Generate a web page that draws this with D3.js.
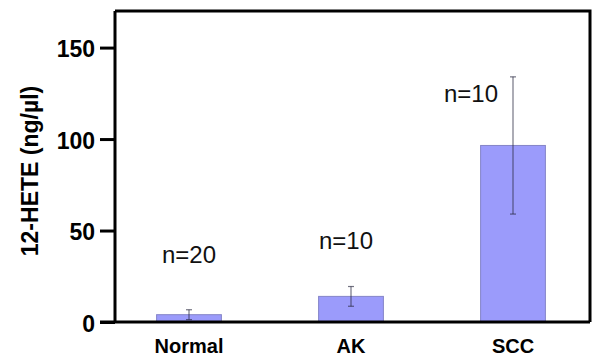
<!DOCTYPE html>
<html>
<head>
<meta charset="utf-8">
<script src="https://cdn.jsdelivr.net/npm/d3@7"></script>
<style>
  html, body { margin: 0; padding: 0; background: #fff; }
  svg { display: block; font-family: Arial, "Liberation Sans", sans-serif; }
</style>
</head>
<body>
<svg id="BarChart"></svg>
<script>
// data
const groups = ["Normal", "AK", "SCC"];
const means = [4, 14, 96.5];
const errors = [2.7, 5.4, 37.5];
const nLabels = ["n=20", "n=10", "n=10"];
const nLabelLevels = [32, 40, 120]; // y value where each n label sits
const yTicks = [0, 50, 100, 150];

const margin = { top: 11, right: 2, bottom: 37, left: 115 },
  W = 592, H = 359,
  width = W - margin.left - margin.right,
  height = H - margin.top - margin.bottom;

const svg = d3.select("#BarChart")
  .attr("width", W)
  .attr("height", H);

const chart = svg.append("g")
  .attr("transform", `translate(${margin.left},${margin.top})`);

const x = d3.scaleBand()
  .domain(groups)
  .range([-7, 479])
  .paddingInner(0.6)
  .paddingOuter(0.3);

const y = d3.scaleLinear()
  .domain([0, 170])
  .range([height, 0]);

// bars
chart.selectAll(".bar")
  .data(groups)
  .enter()
  .append("rect")
  .attr("class", "bar")
  .attr("x", d => x(d))
  .attr("y", (d, i) => y(means[i]))
  .attr("width", x.bandwidth())
  .attr("height", (d, i) => height - y(means[i]))
  .attr("fill", "#9b9bfb")
  .attr("stroke", "#8585c8")
  .attr("stroke-width", 1);

// error bars
const eb = chart.selectAll(".err")
  .data(groups)
  .enter()
  .append("g")
  .attr("class", "err")
  .attr("stroke", "#2a2a40")
  .attr("stroke-opacity", 0.65)
  .attr("stroke-width", 1.2)
  .attr("transform", d => `translate(${x(d) + x.bandwidth() / 2},0)`);

eb.append("line")
  .attr("y1", (d, i) => y(means[i] + errors[i]))
  .attr("y2", (d, i) => y(Math.max(0, means[i] - errors[i])));
eb.append("line")
  .attr("x1", -3).attr("x2", 3)
  .attr("y1", (d, i) => y(means[i] + errors[i]))
  .attr("y2", (d, i) => y(means[i] + errors[i]));
eb.append("line")
  .attr("x1", -3).attr("x2", 3)
  .attr("y1", (d, i) => y(Math.max(0, means[i] - errors[i])))
  .attr("y2", (d, i) => y(Math.max(0, means[i] - errors[i])));

// n labels (SCC label shifted left of its error bar)
const labelShift = [0, -5, -42];
chart.selectAll(".nlab")
  .data(groups)
  .enter()
  .append("text")
  .attr("class", "nlab")
  .attr("x", (d, i) => x(d) + x.bandwidth() / 2 + labelShift[i])
  .attr("y", (d, i) => y(nLabelLevels[i]))
  .attr("text-anchor", "middle")
  .attr("font-size", 24)
  .attr("fill", "#111")
  .text((d, i) => nLabels[i]);

// frame: top and right
chart.append("path")
  .attr("d", `M0,0H${width}V${height}`)
  .attr("fill", "none")
  .attr("stroke", "#000")
  .attr("stroke-width", 3);

// Y axis
const yAxis = chart.append("g")
  .call(d3.axisLeft(y).tickValues(yTicks).tickSize(15).tickPadding(5));
yAxis.select(".domain").attr("stroke-width", 3).attr("d", `M0,${height}V0`);
yAxis.selectAll(".tick line").attr("stroke-width", 3);
yAxis.selectAll(".tick text")
  .attr("font-size", 23)
  .attr("font-weight", "bold")
  .attr("font-family", "Arial, 'Liberation Sans', sans-serif")
  .attr("fill", "#000")
  .attr("dy", "0.4em");

// X axis
const xAxis = chart.append("g")
  .attr("transform", `translate(0,${height})`)
  .call(d3.axisBottom(x).tickSize(0).tickPadding(17));
xAxis.select(".domain").attr("stroke-width", 3).attr("d", `M-15,0H${width}`);
xAxis.selectAll(".tick text")
  .attr("font-size", 20)
  .attr("font-weight", "bold")
  .attr("font-family", "Arial, 'Liberation Sans', sans-serif")
  .attr("fill", "#000");

// Y title
svg.append("text")
  .attr("transform", `translate(38,171) rotate(-90)`)
  .attr("text-anchor", "middle")
  .attr("font-size", 23)
  .attr("font-weight", "bold")
  .attr("fill", "#000")
  .text("12-HETE (ng/µl)");
</script>
</body>
</html>
